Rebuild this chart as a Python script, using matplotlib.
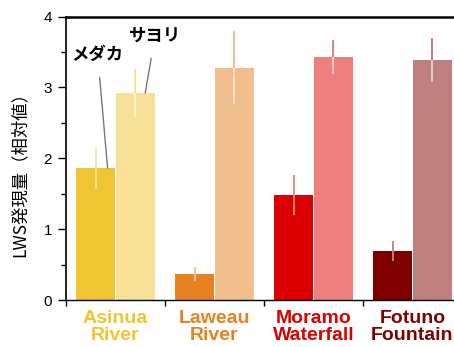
import numpy as np
import matplotlib
matplotlib.use('Agg')
import matplotlib.pyplot as plt

plt.rcParams['font.family'] = ['Liberation Sans', 'Noto Sans CJK JP', 'DejaVu Sans']

# dati
sites = ['Asinua\nRiver', 'Laweau\nRiver', 'Moramo\nWaterfall', 'Fotuno\nFountain']
medaka = [1.86, 0.37, 1.48, 0.69]
medaka_err = [0.29, 0.10, 0.28, 0.14]
sayori = [2.92, 3.28, 3.43, 3.38]
sayori_err = [0.34, 0.51, 0.24, 0.31]

dark_cols = ['#F0C532', '#E6821F', '#DC0000', '#800000']
light_cols = ['#F7E196', '#F1BF8C', '#EE7F7F', '#BF7F7F']

fig = plt.figure(figsize=(4.54, 3.47), dpi=100)
ax = fig.add_axes([66 / 454, 47 / 347, 396 / 454, 283.5 / 347])

x = np.arange(len(sites))
w = 0.39
ax.bar(x + 0.30, medaka, width=w, color=dark_cols, edgecolor='none', zorder=2)
ax.bar(x + 0.70, sayori, width=w, color=light_cols, edgecolor='none', zorder=2)

# barre di errore: sopra la barra colore pieno, dentro piu chiaro
for i in range(len(sites)):
    xm = x[i] + 0.30
    ax.vlines(xm, medaka[i], medaka[i] + medaka_err[i], color=light_cols[i], lw=1.3, zorder=3)
    ax.vlines(xm, medaka[i] - medaka_err[i], medaka[i], color='white', alpha=0.55, lw=1.3, zorder=3)
    xs = x[i] + 0.70
    ax.vlines(xs, sayori[i], sayori[i] + sayori_err[i], color=dark_cols[i], alpha=0.55, lw=1.3, zorder=3)
    ax.vlines(xs, sayori[i] - sayori_err[i], sayori[i], color='white', alpha=0.6, lw=1.3, zorder=3)

ax.set_xlim(0, 4)
ax.set_ylim(0, 4)

ax.set_yticks([0, 1, 2, 3, 4])
ax.set_yticks(np.arange(0.5, 4, 1), minor=True)
ax.tick_params(axis='y', which='major', length=6, width=1, labelsize=11, pad=4)
ax.tick_params(axis='y', which='minor', length=3.5, width=1)

ax.set_xticks(x + 0.5)
ax.set_xticklabels(sites, fontsize=14, fontweight='bold', linespacing=1.0)
ax.set_xticks(np.arange(0, 5), minor=True)
ax.tick_params(axis='x', which='major', length=0, pad=7)
ax.tick_params(axis='x', which='minor', length=4, width=1)
for lab, c in zip(ax.get_xticklabels(), dark_cols):
    lab.set_color(c)

ax.spines['right'].set_visible(False)
ax.spines['top'].set_linewidth(1.8)
ax.spines['left'].set_linewidth(1.2)
ax.spines['bottom'].set_linewidth(1.0)

fig.text(20 / 454, 1 - 170 / 347, 'LWS発現量（相対値）', rotation=90,
         ha='center', va='center', fontsize=12.5, family=['Noto Sans CJK JP'])

ax.annotate('メダカ', xy=(0.42, medaka[0]), xytext=(0.32, 3.46),
            ha='center', va='center', fontsize=12.5, fontweight='bold',
            family=['Noto Sans CJK JP'],
            arrowprops=dict(arrowstyle='-', color='#777777', lw=1,
                            shrinkA=8, shrinkB=0))
ax.annotate('サヨリ', xy=(0.80, sayori[0]), xytext=(0.90, 3.73),
            ha='center', va='center', fontsize=12.5, fontweight='bold',
            family=['Noto Sans CJK JP'],
            arrowprops=dict(arrowstyle='-', color='#777777', lw=1,
                            shrinkA=8, shrinkB=0))

fig.savefig('out.png', dpi=100)
